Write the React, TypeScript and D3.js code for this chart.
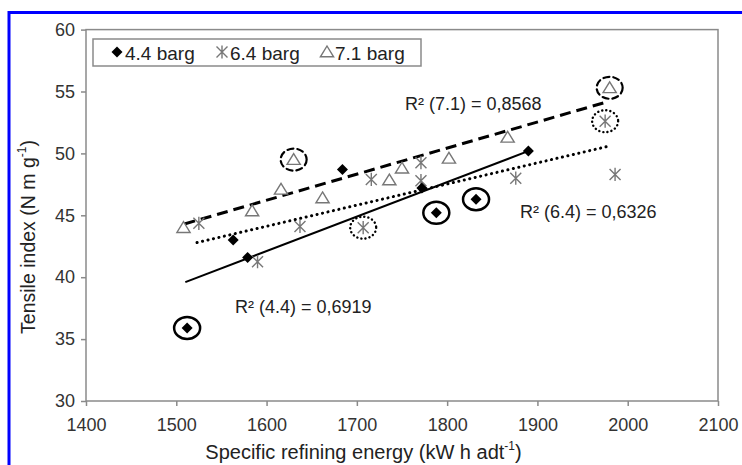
import * as d3 from "d3";
import React, { useEffect, useRef } from "react";

// 4.4 barg
const energy44 = [1512, 1563, 1579, 1684, 1772, 1788, 1832, 1890];
const tensile44 = [35.9, 43.0, 41.6, 48.7, 47.2, 45.2, 46.3, 50.2];
const outliers44 = [0, 5, 6];

// 6.4 barg
const energy64 = [1525, 1590, 1637, 1707, 1716, 1771, 1771, 1876, 1975, 1986];
const tensile64 = [44.35, 41.25, 44.1, 44.0, 47.9, 49.25, 47.8, 48.0, 52.6, 48.3];
const outliers64 = [3, 8];

// 7.1 barg
const energy71 = [1508, 1584, 1616, 1630, 1662, 1736, 1750, 1802, 1867, 1980];
const tensile71 = [44.0, 45.35, 47.1, 49.5, 46.4, 47.85, 48.8, 49.6, 51.3, 55.3];
const outliers71 = [3, 9];

// trend line end points
const trend44 = [[1510, 39.6], [1894, 50.3]];
const trend64 = [[1523, 42.8], [1980, 50.6]];
const trend71 = [[1509, 44.3], [1979, 54.2]];

const xTicks = [1400, 1500, 1600, 1700, 1800, 1900, 2000, 2100];
const yTicks = [30, 35, 40, 45, 50, 55, 60];
const legendLabels = ["4.4 barg", "6.4 barg", "7.1 barg"];
const r2Labels = ["R\u00b2 (7.1) = 0,8568", "R\u00b2 (6.4) = 0,6326", "R\u00b2 (4.4) = 0,6919"];

const FONT = "'Liberation Sans', Arial, sans-serif";
const GREY = "#777";

function App() {
  const ref = useRef(null);

  useEffect(() => {
    const svg = d3.select(ref.current);
    svg.selectAll("*").remove();

    const width = 742;
    const height = 465;
    const margin = { top: 29.6, left: 86, bottom: 64, right: 24 };
    const iwidth = width - margin.left - margin.right;
    const iheight = height - margin.top - margin.bottom;

    // blue page frame
    svg.append("rect")
      .attr("x", 9).attr("y", 12.5)
      .attr("width", 800).attr("height", 500)
      .attr("fill", "none").attr("stroke", "#0000ff").attr("stroke-width", 3);

    const x = d3.scaleLinear().domain([1400, 2100]).range([0, iwidth]);
    const y = d3.scaleLinear().domain([30, 60]).range([iheight, 0]);

    const g = svg.append("g").attr("transform", `translate(${margin.left}, ${margin.top})`);

    g.append("rect")
      .attr("width", iwidth).attr("height", iheight)
      .attr("fill", "none").attr("stroke", "#8a8a8a").attr("stroke-width", 1.5);

    const xAxis = g.append("g")
      .attr("transform", `translate(0, ${iheight})`)
      .call(d3.axisBottom(x).tickValues(xTicks).tickSize(5).tickPadding(12).tickFormat(d3.format("d")));
    const yAxis = g.append("g")
      .call(d3.axisLeft(y).tickValues(yTicks).tickSize(5).tickPadding(6).tickFormat(d3.format("d")));
    [xAxis, yAxis].forEach(a => {
      a.select(".domain").remove();
      a.selectAll("line").attr("stroke", "#8a8a8a").attr("stroke-width", 1.5);
      a.selectAll("text").attr("font-family", FONT).attr("font-size", 18).attr("fill", "#333");
    });

    // axis titles
    const xt = svg.append("text")
      .attr("x", 363.5).attr("y", 459).attr("text-anchor", "middle")
      .attr("font-family", FONT).attr("font-size", 20).attr("fill", "#222");
    xt.append("tspan").text("Specific refining energy (kW h adt");
    xt.append("tspan").attr("font-size", 12).attr("dy", -9).text("-1");
    xt.append("tspan").attr("dy", 9).text(")");

    const yt = svg.append("text")
      .attr("transform", "translate(35, 237) rotate(-90)").attr("text-anchor", "middle")
      .attr("font-family", FONT).attr("font-size", 19.5).attr("fill", "#222");
    yt.append("tspan").text("Tensile index (N m g");
    yt.append("tspan").attr("font-size", 12).attr("dy", -9).text("-1");
    yt.append("tspan").attr("dy", 9).text(")");

    // trend lines
    const line = d3.line().x(d => x(d[0])).y(d => y(d[1]));
    g.append("path").attr("d", line(trend44))
      .attr("fill", "none").attr("stroke", "#000").attr("stroke-width", 2);
    g.append("path").attr("d", line(trend64))
      .attr("fill", "none").attr("stroke", "#000").attr("stroke-width", 3)
      .attr("stroke-dasharray", "0.1 5.5").attr("stroke-linecap", "round");
    g.append("path").attr("d", line(trend71))
      .attr("fill", "none").attr("stroke", "#000").attr("stroke-width", 3)
      .attr("stroke-dasharray", "11 6");

    // marker drawers
    const diamond = (sel, cx, cy, s) => sel.append("path")
      .attr("d", `M${cx},${cy - s}L${cx + s},${cy}L${cx},${cy + s}L${cx - s},${cy}Z`)
      .attr("fill", "#000");
    const star = (sel, cx, cy, s) => sel.append("path")
      .attr("d", `M${cx - s},${cy - s}L${cx + s},${cy + s}M${cx + s},${cy - s}L${cx - s},${cy + s}M${cx},${cy - s * 1.2}L${cx},${cy + s * 1.2}`)
      .attr("stroke", GREY).attr("stroke-width", 1.4).attr("fill", "none");
    const tri = (sel, cx, cy, s) => sel.append("path")
      .attr("d", `M${cx},${cy - s}L${cx + s * 1.1},${cy + s * 0.8}L${cx - s * 1.1},${cy + s * 0.8}Z`)
      .attr("stroke", GREY).attr("stroke-width", 1.4).attr("fill", "#fff");

    energy71.forEach((e, i) => tri(g, x(e), y(tensile71[i]), 6));
    energy64.forEach((e, i) => star(g, x(e), y(tensile64[i]), 5.5));
    energy44.forEach((e, i) => diamond(g, x(e), y(tensile44[i]), 5.5));

    // rings around excluded points
    const ring = (xs, ys, idx, dash, w) => idx.forEach(i => {
      g.append("ellipse")
        .attr("cx", x(xs[i])).attr("cy", y(ys[i]))
        .attr("rx", 13).attr("ry", 11)
        .attr("fill", "none").attr("stroke", "#000").attr("stroke-width", w)
        .attr("stroke-dasharray", dash).attr("stroke-linecap", "round");
    });
    ring(energy44, tensile44, outliers44, null, 2.5);
    ring(energy71, tensile71, outliers71, "6 4", 2.2);
    ring(energy64, tensile64, outliers64, "0.1 4", 2.4);

    // R² labels
    const r2Pos = [[405, 110], [520, 218], [235, 313]];
    r2Labels.forEach((t, i) => svg.append("text")
      .attr("x", r2Pos[i][0]).attr("y", r2Pos[i][1])
      .attr("font-family", FONT).attr("font-size", 18).attr("fill", "#222").text(t));

    // legend
    const lg = svg.append("g");
    lg.append("rect").attr("x", 93).attr("y", 39).attr("width", 328).attr("height", 27)
      .attr("fill", "#fff").attr("stroke", "#8a8a8a").attr("stroke-width", 1.5);
    const legendX = [117, 222, 327];
    const drawers = [diamond, star, tri];
    const sizes = [5.5, 5.5, 6];
    legendLabels.forEach((t, i) => {
      drawers[i](lg, legendX[i], 52, sizes[i]);
      lg.append("text").attr("x", legendX[i] + 8).attr("y", 60)
        .attr("font-family", FONT).attr("font-size", 19).attr("fill", "#222").text(t);
    });
  }, []);

  return (
    <svg ref={ref} width={742} height={465}
      style={{ position: "absolute", left: 0, top: 0, background: "#fff" }}></svg>
  );
}

export default App;
